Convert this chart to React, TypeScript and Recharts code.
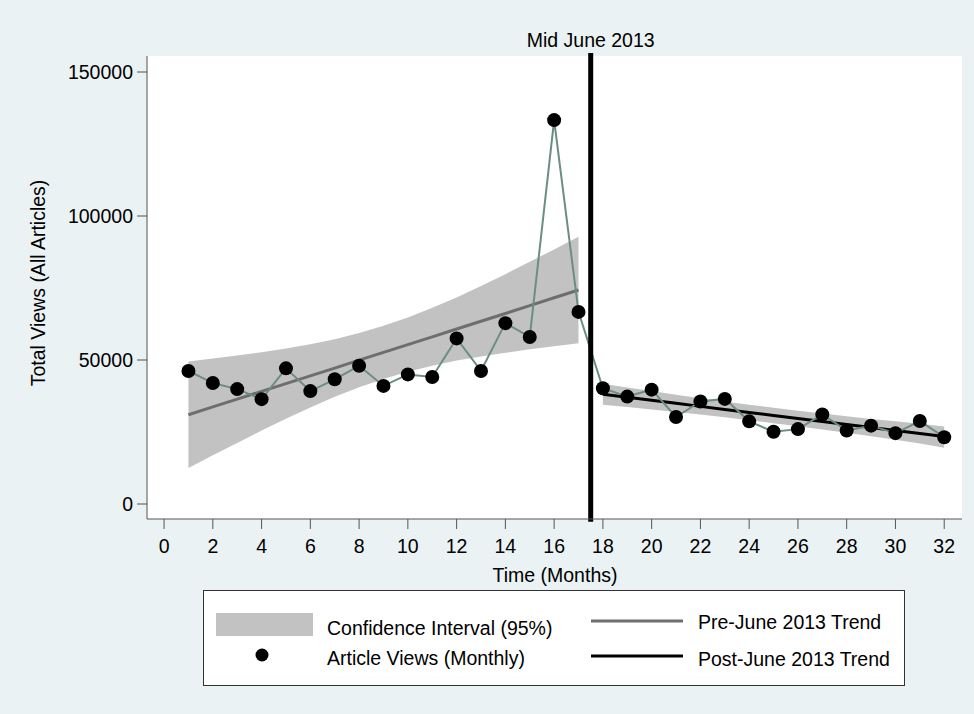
import {
  ComposedChart, Area, Line, XAxis, YAxis, CartesianGrid, ReferenceLine,
} from "recharts";

const months = [
  1, 2, 3, 4, 5, 6, 7, 8, 9, 10, 11, 12, 13, 14, 15, 16,
  17, 18, 19, 20, 21, 22, 23, 24, 25, 26, 27, 28, 29, 30, 31, 32,
];
const views = [
  46200, 42000, 39900, 36400, 47100, 39200, 43300, 48000, 41000, 45000, 44100,
  57500, 46200, 62800, 58000, 133300, 66700, 40200, 37300, 39700, 30200, 35600,
  36500, 28700, 25100, 26000, 31100, 25500, 27200, 24600, 28800, 23200,
];

// months 1-17
const preTrend = [
  31000, 33700, 36400, 39100, 41800, 44500, 47200, 49950, 52650, 55350, 58050,
  60750, 63450, 66150, 68900, 71600, 74300,
];
const preLow = [
  12500, 16900, 21200, 25500, 29600, 33500, 37200, 40500, 43400, 45900, 48000,
  49800, 51200, 52500, 53700, 54800, 55800,
];
const preHigh = [
  49500, 50500, 51600, 52700, 54000, 55500, 57200, 59400, 61900, 64800, 68100,
  71700, 75700, 79800, 84100, 88400, 92800,
];

// months 18-32
const postTrend = [
  38100, 37050, 36000, 34950, 33900, 32850, 31800, 30750, 29700, 28650, 27600,
  26550, 25500, 24450, 23400,
];
const postLow = [
  34450, 33650, 32800, 31950, 31050, 30100, 29100, 28050, 27000, 25900, 24750,
  23550, 22300, 21000, 19500,
];
const postHigh = [
  41750, 40450, 39200, 37950, 36750, 35600, 34500, 33450, 32400, 31400, 30450,
  29550, 28700, 27900, 26900,
];

const xTicks = [0, 2, 4, 6, 8, 10, 12, 14, 16, 18, 20, 22, 24, 26, 28, 30, 32];
const yTicks = [0, 50000, 100000, 150000];
const breakMonth = 17.5;
// the break line runs a little past both ends of the plot region
const breakSpan = [-6200, 156600];

const FONT = "'Liberation Sans', Arial, sans-serif";
const FS = 19.5;
const BG = "#EAF2F3";

const data = months.map((m, i) => {
  const pre = i < preTrend.length;
  const j = i - preTrend.length;
  return {
    month: m,
    views: views[i],
    preTrend: pre ? preTrend[i] : null,
    preCI: pre ? [preLow[i], preHigh[i]] : null,
    postTrend: pre ? null : postTrend[j],
    postCI: pre ? null : [postLow[j], postHigh[j]],
  };
});

const Dot = (props: any) => {
  const { cx, cy, index } = props;
  if (cx == null || cy == null) return <g key={index} />;
  return <circle key={index} cx={cx} cy={cy} r={7} fill="#000" />;
};

const tickStyle = { fontSize: FS, fill: "#000", fontFamily: FONT };

export default function App() {
  return (
    <div
      style={{
        position: "absolute", left: 0, top: 0, width: 974, height: 714,
        background: BG, fontFamily: FONT, color: "#000",
      }}
    >
      <ComposedChart
        width={974}
        height={714}
        data={data}
        margin={{ top: 56, right: 12, left: 0, bottom: 155 }}
        style={{ position: "absolute", left: 0, top: 0 }}
      >
        <rect x={147} y={56} width={815} height={463} fill="#fff" />
        <CartesianGrid vertical={false} stroke={BG} strokeWidth={2} fill="#fff" />
        <XAxis
          dataKey="month"
          type="number"
          domain={[-0.7, 32.73]}
          ticks={xTicks}
          interval={0}
          height={40}
          tickSize={10}
          tickMargin={10}
          tick={tickStyle}
          stroke="#555"
          allowDataOverflow
        />
        <YAxis
          type="number"
          domain={[-5208, 155556]}
          ticks={yTicks}
          interval={0}
          width={147}
          tickSize={10}
          tickMargin={4}
          tick={tickStyle}
          tickFormatter={(v) => String(v)}
          stroke="#555"
          allowDataOverflow
        />
        <Area dataKey="preCI" stroke="none" fill="#C2C2C2" fillOpacity={1} isAnimationActive={false} />
        <Area dataKey="postCI" stroke="none" fill="#C2C2C2" fillOpacity={1} isAnimationActive={false} />
        <Line dataKey="preTrend" stroke="#6E6E6E" strokeWidth={3} dot={false} activeDot={false} isAnimationActive={false} />
        <Line dataKey="postTrend" stroke="#000" strokeWidth={3} dot={false} activeDot={false} isAnimationActive={false} />
        <Line
          dataKey="views"
          stroke="#6A8E82"
          strokeWidth={2}
          dot={<Dot />}
          activeDot={false}
          isAnimationActive={false}
        />
        <ReferenceLine
          segment={[
            { x: breakMonth, y: breakSpan[0] },
            { x: breakMonth, y: breakSpan[1] },
          ]}
          ifOverflow="visible"
          stroke="#000"
          strokeWidth={5}
          label={{
            value: "Mid June 2013", position: "top", offset: 6,
            fill: "#000", fontSize: FS, fontFamily: FONT,
          }}
        />
      </ComposedChart>

      {/* axis titles */}
      <div
        style={{
          position: "absolute", left: 38, top: 283, fontSize: FS,
          whiteSpace: "nowrap", transform: "translate(-50%, -50%) rotate(-90deg)",
        }}
      >
        Total Views (All Articles)
      </div>
      <div
        style={{
          position: "absolute", left: 555, top: 575, fontSize: FS,
          whiteSpace: "nowrap", transform: "translate(-50%, -50%)",
        }}
      >
        Time (Months)
      </div>

      {/* legend */}
      <div
        style={{
          position: "absolute", left: 203, top: 590, width: 700, height: 94,
          border: "1px solid #333", background: "#fff", fontSize: FS,
        }}
      >
        <svg width={700} height={94} style={{ position: "absolute", left: 0, top: 0 }}>
          <rect x={12} y={22} width={97} height={23} fill="#C2C2C2" />
          <circle cx={58} cy={64} r={6.5} fill="#000" />
          <line x1={387} x2={479} y1={30} y2={30} stroke="#6E6E6E" strokeWidth={3} />
          <line x1={387} x2={479} y1={65} y2={65} stroke="#000" strokeWidth={3} />
        </svg>
        <div style={{ position: "absolute", left: 123, top: 37, transform: "translateY(-50%)", whiteSpace: "nowrap" }}>
          Confidence Interval (95%)
        </div>
        <div style={{ position: "absolute", left: 123, top: 67, transform: "translateY(-50%)", whiteSpace: "nowrap" }}>
          Article Views (Monthly)
        </div>
        <div style={{ position: "absolute", left: 494, top: 31, transform: "translateY(-50%)", whiteSpace: "nowrap" }}>
          Pre-June 2013 Trend
        </div>
        <div style={{ position: "absolute", left: 494, top: 68, transform: "translateY(-50%)", whiteSpace: "nowrap" }}>
          Post-June 2013 Trend
        </div>
      </div>
    </div>
  );
}
